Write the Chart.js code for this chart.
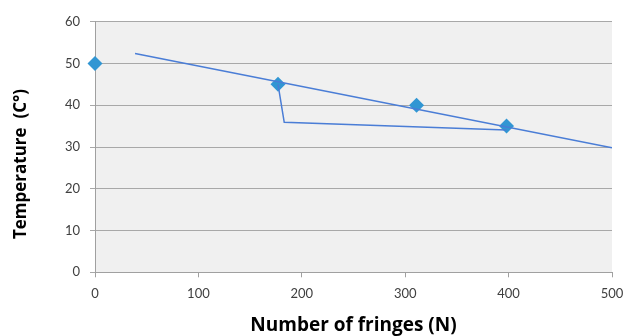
<!DOCTYPE html>
<html>
<head>
<meta charset="utf-8">
<script src="https://cdn.jsdelivr.net/npm/chart.js@4/dist/chart.umd.min.js"></script>
<style>
  html, body { margin: 0; padding: 0; background: #ffffff; }
  #wrap { width: 625px; height: 336px; position: relative; }
</style>
</head>
<body>
<div id="wrap"><canvas id="c" width="625" height="336"></canvas></div>
<script>
// Measured data points (diamonds)
const fringes = [0, 177, 311, 398];
const temperatures = [50, 45, 40, 35];

// Straight line drawn across the plot
const trendX = [38.7, 500];
const trendY = [52.4, 29.8];

// Extra polyline from the second point
const pathX = [177, 183, 398];
const pathY = [45, 35.9, 34.1];

// Axis ticks
const xTicks = [0, 100, 200, 300, 400, 500];
const yTicks = [0, 10, 20, 30, 40, 50, 60];

const xTitle = 'Number of fringes (N)';
const yTitle = 'Temperature  (C\u00B0)';

const toPts = (xs, ys) => xs.map((x, i) => ({ x: x, y: ys[i] }));

const plotBg = {
  id: 'plotBg',
  beforeDraw(chart) {
    const { ctx, chartArea: a } = chart;
    ctx.save();
    ctx.fillStyle = '#f0f0f0';
    ctx.fillRect(a.left, a.top, a.right - a.left, a.bottom - a.top);
    ctx.restore();
  }
};

const yTitlePlugin = {
  id: 'yTitlePlugin',
  afterDraw(chart) {
    const { ctx } = chart;
    ctx.save();
    ctx.translate(21, 164);
    ctx.rotate(-Math.PI / 2);
    ctx.font = 'bold 17px "Open Sans"';
    ctx.fillStyle = '#000000';
    ctx.textAlign = 'center';
    ctx.textBaseline = 'middle';
    ctx.fillText(yTitle, 0, 0);
    ctx.restore();
  }
};

new Chart(document.getElementById('c'), {
  type: 'scatter',
  data: {
    datasets: [
      {
        data: toPts(trendX, trendY),
        showLine: true,
        borderColor: '#4a7dd6',
        borderWidth: 1.5,
        pointRadius: 0,
        order: 1
      },
      {
        data: toPts(pathX, pathY),
        showLine: true,
        borderColor: '#4a7dd6',
        borderWidth: 1.5,
        pointRadius: 0,
        order: 1
      },
      {
        data: toPts(fringes, temperatures),
        showLine: false,
        clip: false,
        pointStyle: 'rectRot',
        pointRadius: 7.5,
        backgroundColor: '#3196d3',
        borderColor: '#3196d3',
        borderWidth: 0,
        order: 2
      }
    ]
  },
  options: {
    responsive: false,
    animation: false,
    devicePixelRatio: 1,
    layout: { padding: { left: 0, top: 21.7, right: 13, bottom: 0 } },
    plugins: {
      legend: { display: false },
      tooltip: { enabled: false }
    },
    scales: {
      x: {
        type: 'linear',
        min: 0,
        max: 500,
        afterBuildTicks(scale) { scale.ticks = xTicks.map(v => ({ value: v })); },
        afterFit(scale) {
          scale.height = 63.7;
          scale.paddingLeft = 0;
          scale.paddingRight = 0;
        },
        ticks: {
          color: '#404040',
          font: { family: 'Lato', size: 13 },
          padding: 9,
          maxRotation: 0
        },
        grid: {
          drawOnChartArea: false,
          drawTicks: true,
          tickLength: 5,
          color: '#a0a0a0'
        },
        border: { display: true, color: '#a0a0a0', width: 1 },
        title: {
          display: true,
          text: xTitle,
          color: '#000000',
          font: { family: 'Open Sans', size: 19, weight: 'bold', lineHeight: 1.1 },
          padding: { top: 0, bottom: 0 }
        }
      },
      y: {
        type: 'linear',
        min: 0,
        max: 60,
        afterBuildTicks(scale) { scale.ticks = yTicks.map(v => ({ value: v })); },
        afterFit(scale) {
          scale.width = 95;
          scale.paddingTop = 0;
          scale.paddingBottom = 0;
        },
        ticks: {
          color: '#404040',
          font: { family: 'Lato', size: 13 },
          padding: 10
        },
        grid: {
          drawOnChartArea: true,
          drawTicks: true,
          tickLength: 5,
          color: '#a8a8a8'
        },
        border: { display: true, color: '#a0a0a0', width: 1 }
      }
    }
  },
  plugins: [plotBg, yTitlePlugin]
});
</script>
</body>
</html>
